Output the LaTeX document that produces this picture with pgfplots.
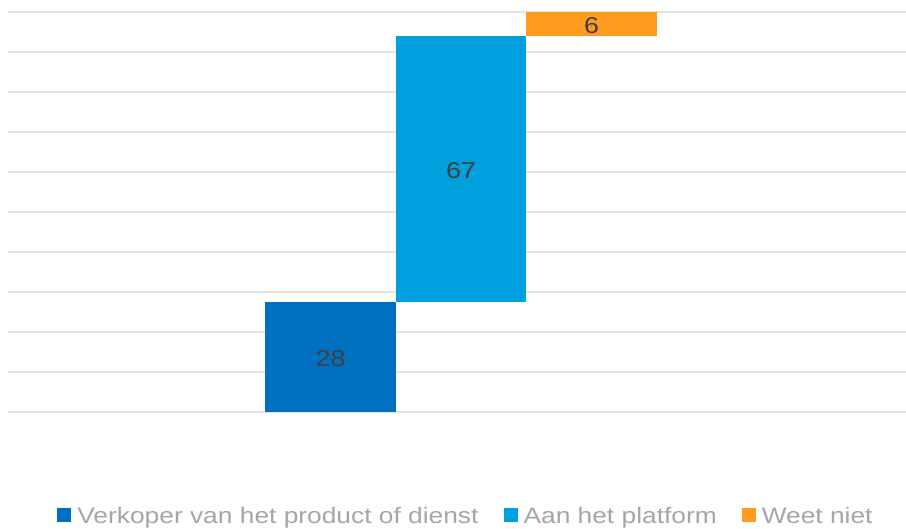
\documentclass[border=0pt]{standalone}
\usepackage{fontspec}
\setmainfont{Liberation Sans}[FakeStretch=1.175]
\usepackage{pgfplots}
\pgfplotsset{compat=1.18}
\definecolor{cBlue}{HTML}{0070C0}
\definecolor{cCyan}{HTML}{00A0DE}
\definecolor{cOrange}{HTML}{FF9B21}
\definecolor{gridc}{HTML}{E4E4E4}
\definecolor{lbl}{HTML}{404040}
\definecolor{leg}{HTML}{A6A6A6}
\begin{document}
\begin{tikzpicture}
\useasboundingbox (-8bp,-117bp) rectangle (898bp,412bp);
\begin{axis}[
  at={(0,0)}, anchor=south west,
  scale only axis, width=898bp, height=400bp,
  xmin=0, xmax=898, ymin=0, ymax=100,
  axis line style={draw=none},
  ytick={0,10,...,100}, yticklabels={}, xtick=\empty,
  tick style={draw=none},
  ymajorgrids, major grid style={draw=gridc, line width=1.5bp},
  legend columns=-1,
  legend style={draw=none, fill=none,
    at={(rel axis cs:0.510,0)}, anchor=center, yshift=-104bp,
    font=\fontsize{22.5}{26}\selectfont, text=leg,
    /tikz/every even column/.append style={column sep=23bp}},
  legend image code/.code={\fill[#1] (0bp,-6bp) rectangle (14bp,8bp); \path (0bp,0bp) -- (18bp,0bp);},
]
\addplot[fill=cBlue, draw=none] coordinates {(257.25,0) (387.75,0) (387.75,27.5) (257.25,27.5)} -- cycle;
\addlegendentry{Verkoper van het product of dienst}
\addplot[fill=cCyan, draw=none] coordinates {(387.75,27.5) (518.25,27.5) (518.25,94) (387.75,94)} -- cycle;
\addlegendentry{Aan het platform}
\addplot[fill=cOrange, draw=none] coordinates {(518.25,94) (648.75,94) (648.75,100) (518.25,100)} -- cycle;
\addlegendentry{Weet niet}
\addplot[forget plot, only marks, mark=*, mark size=0.01pt, mark options={draw=none, fill=none},
  nodes near coords, point meta=explicit symbolic,
  nodes near coords style={anchor=center, font=\fontsize{23}{26}\selectfont, text=lbl}]
  coordinates {(322.5,13.25) [28] (453,60.25) [67] (583.5,96.5) [6]};
\end{axis}
\end{tikzpicture}
\end{document}
